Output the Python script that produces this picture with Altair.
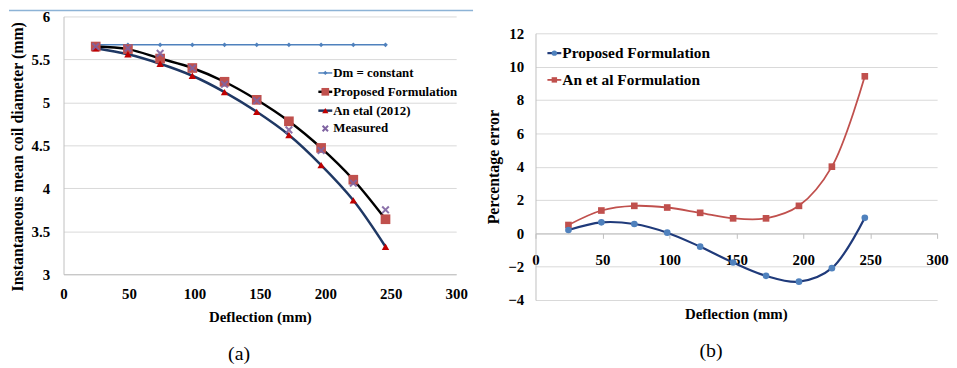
import altair as alt
import pandas as pd

# ---------------- data ----------------
deflection = [24.6, 49.2, 73.8, 98.4, 123.0, 147.6, 172.2, 196.8, 221.4, 246.0]
dm_constant = [5.67, 5.67, 5.67, 5.67, 5.67, 5.67, 5.67, 5.67, 5.67, 5.67]
proposed_dm = [5.65, 5.62, 5.51, 5.40, 5.24, 5.03, 4.78, 4.47, 4.10, 3.64]
an_etal_dm = [5.63, 5.56, 5.45, 5.31, 5.12, 4.89, 4.62, 4.27, 3.86, 3.32]
measured_dm = [5.65, 5.63, 5.57, 5.40, 5.21, 5.02, 4.68, 4.44, 4.06, 3.75]

proposed_err = [0.20, 0.66, 0.56, 0.04, -0.80, -1.75, -2.55, -2.90, -2.09, 0.93]
an_err = [0.50, 1.37, 1.65, 1.55, 1.23, 0.90, 0.90, 1.65, 4.00, 9.42]

x_ticks = [0, 50, 100, 150, 200, 250, 300]
ya_ticks = [3, 3.5, 4, 4.5, 5, 5.5, 6]
yb_ticks = [-4, -2, 0, 2, 4, 6, 8, 10, 12]

legend_a = ["Dm = constant", "Proposed Formulation", "An etal (2012)", "Measured"]
legend_b = ["Proposed Formulation", "An et al Formulation"]

FONT = "Liberation Serif"
GRID = "#D9D9D9"
AXISC = "#BFBFBF"

df_a = pd.DataFrame({
    "deflection": deflection,
    "dm_constant": dm_constant,
    "proposed": proposed_dm,
    "an_etal": an_etal_dm,
    "measured": measured_dm,
})
df_b = pd.DataFrame({
    "deflection": deflection,
    "proposed": proposed_err,
    "an": an_err,
})

WA, HA = 396, 260
WB, HB = 405, 286
B_TOP = 17  # right plot starts lower than the left one

# ---------------- panel (a) ----------------
xa_axis = alt.Axis(values=x_ticks, grid=False, ticks=False, domainColor=AXISC,
                   labelFont=FONT, labelFontWeight="bold", labelFontSize=15,
                   labelColor="black", labelPadding=12, labelFlush=False,
                   title="Deflection (mm)", titleFont=FONT, titleFontSize=15,
                   titleFontWeight="bold", titleColor="black", titlePadding=9)
ya_axis = alt.Axis(values=ya_ticks, format="~g", grid=True, gridColor=GRID,
                   ticks=False, domainColor=AXISC,
                   labelFont=FONT, labelFontWeight="bold", labelFontSize=15,
                   labelColor="black", labelPadding=14,
                   title="Instantaneous mean coil diameter (mm)", titleFont=FONT,
                   titleFontSize=16, titleFontWeight="bold", titleColor="black",
                   titlePadding=6, titleY=141)

xa = alt.X("deflection:Q", scale=alt.Scale(domain=[0, 300], nice=False), axis=xa_axis)


def ya(field):
    return alt.Y(f"{field}:Q", scale=alt.Scale(domain=[3, 6], nice=False), axis=ya_axis)


base_a = alt.Chart(df_a).encode(x=xa)

a_layers = [
    base_a.mark_line(color="#4F81BD", strokeWidth=1.5).encode(y=ya("dm_constant")),
    base_a.mark_line(color="#000000", strokeWidth=2.5, interpolate="catmull-rom").encode(y=ya("proposed")),
    base_a.mark_line(color="#1F3864", strokeWidth=2.5, interpolate="catmull-rom").encode(y=ya("an_etal")),
    base_a.mark_point(shape="diamond", filled=True, size=22, color="#4F81BD", opacity=1).encode(y=ya("dm_constant")),
    base_a.mark_point(shape="square", filled=True, size=95, color="#C0504D", opacity=1).encode(y=ya("proposed")),
    base_a.mark_point(shape="triangle-up", filled=True, size=55, color="#C00000", opacity=1).encode(y=ya("an_etal")),
    base_a.mark_point(shape="M-1,-1L1,1M1,-1L-1,1", filled=False, size=45, color="#8064A2",
                      strokeWidth=2, opacity=0.9).encode(y=ya("measured")),
]


def legend_item(x0, y, label, line_color, shape, mcolor, msize, fsize, line=True, filled=True, sw=2):
    d = pd.DataFrame({"l": [label]})
    out = []
    if line:
        out.append(alt.Chart(d).mark_rule(color=line_color, strokeWidth=sw).encode(
            x=alt.value(x0), x2=alt.value(x0 + 14), y=alt.value(y)))
    out.append(alt.Chart(d).mark_point(shape=shape, filled=filled, size=msize, color=mcolor,
                                       opacity=1, strokeWidth=2).encode(
        x=alt.value(x0 + 7), y=alt.value(y)))
    out.append(alt.Chart(d).mark_text(align="left", baseline="middle", font=FONT, fontWeight="bold",
                                      fontSize=fsize, color="black").encode(
        x=alt.value(x0 + 15), y=alt.value(y), text="l:N"))
    return out


leg_a_specs = [
    ("#4F81BD", "diamond", "#4F81BD", 18, True, True, 1.5),
    ("#000000", "square", "#C0504D", 60, True, True, 2.5),
    ("#1F3864", "triangle-up", "#C00000", 40, True, True, 2.5),
    ("#8064A2", "M-1,-1L1,1M1,-1L-1,1", "#8064A2", 30, False, False, 2),
]
leg_a_y = [57, 76, 95, 113]
for lab, yy, spec in zip(legend_a, leg_a_y, leg_a_specs):
    lc, sh, mc, ms, ln, fl, sw = spec
    a_layers += legend_item(257, yy, lab, lc, sh, mc, ms, 13, line=ln, filled=fl, sw=sw)

a_layers.append(alt.Chart(pd.DataFrame({"t": ["top"]})).mark_rule(color="#8DB3D6", strokeWidth=1.5).encode(
    x=alt.value(-55), x2=alt.value(413), y=alt.value(-6)))
a_layers.append(alt.Chart(pd.DataFrame({"t": ["(a)"]})).mark_text(font=FONT, fontSize=20, color="black",
                                                                   baseline="middle").encode(
    x=alt.value(177), y=alt.value(340), text="t:N"))

chart_a = alt.layer(*a_layers).properties(width=WA, height=HA)

# ---------------- panel (b) ----------------
xb_axis = alt.Axis(values=x_ticks, grid=False, ticks=True, tickSize=5, tickColor=AXISC,
                   domainColor=AXISC, offset=-67.25,
                   labelFont=FONT, labelFontWeight="bold", labelFontSize=15,
                   labelColor="black", labelPadding=14, labelFlush=False, title=None)
yb_axis = alt.Axis(values=yb_ticks, grid=True, gridColor=GRID, ticks=False, domainColor=AXISC,
                   labelFont=FONT, labelFontWeight="bold", labelFontSize=15,
                   labelColor="black", labelPadding=12,
                   title="Percentage error", titleFont=FONT, titleFontSize=16,
                   titleFontWeight="bold", titleColor="black", titlePadding=6,
                   titleY=(HB + B_TOP) / 2)

xb = alt.X("deflection:Q", scale=alt.Scale(domain=[0, 300], nice=False), axis=xb_axis)


def yb(field):
    return alt.Y(f"{field}:Q", scale=alt.Scale(domain=[-4, 12], nice=False, range=[HB, B_TOP]),
                 axis=yb_axis)


base_b = alt.Chart(df_b).encode(x=xb)
b_layers = [
    base_b.mark_line(color="#C0504D", strokeWidth=1.8, interpolate="catmull-rom").encode(y=yb("an")),
    base_b.mark_line(color="#1F3A7A", strokeWidth=2.2, interpolate="catmull-rom").encode(y=yb("proposed")),
    base_b.mark_point(shape="square", filled=True, size=45, color="#C0504D", opacity=1).encode(y=yb("an")),
    base_b.mark_point(shape="circle", filled=True, size=45, color="#4F81BD", opacity=1).encode(y=yb("proposed")),
]
b_layers += legend_item(12, B_TOP + 20, legend_b[0], "#1F3A7A", "circle", "#4F81BD", 30, 15.5, sw=2.2)
b_layers += legend_item(12, B_TOP + 47, legend_b[1], "#C0504D", "square", "#C0504D", 30, 15.5, sw=1.8)

b_layers.append(alt.Chart(pd.DataFrame({"t": ["Deflection (mm)"]})).mark_text(
    font=FONT, fontSize=15, fontWeight="bold", color="black", baseline="middle").encode(
    x=alt.value(WB / 2), y=alt.value(HB + 14), text="t:N"))
b_layers.append(alt.Chart(pd.DataFrame({"t": ["(b)"]})).mark_text(font=FONT, fontSize=20, color="black",
                                                                   baseline="middle").encode(
    x=alt.value(177), y=alt.value(337), text="t:N"))

chart_b = alt.layer(*b_layers).properties(width=WB, height=HB)

chart = alt.hconcat(chart_a, chart_b, spacing=11).properties(padding=0).configure_view(stroke=None)

chart.save("out.html", embed_options={"renderer": "svg", "actions": False})
